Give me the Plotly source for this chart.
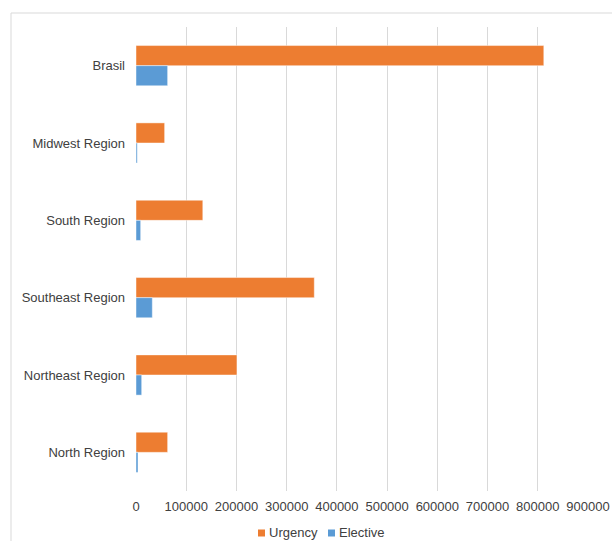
import plotly.graph_objects as go

categories = ["Brasil", "Midwest Region", "South Region", "Southeast Region", "Northeast Region", "North Region"]
urgency = [812000, 57000, 133000, 355000, 201000, 63000]
elective = [63000, 2500, 9300, 32500, 11300, 4000]
x_ticks = [0, 100000, 200000, 300000, 400000, 500000, 600000, 700000, 800000, 900000]
series_names = ["Urgency", "Elective"]
series_colors = ["#ED7D31", "#5B9BD5"]

W, H = 612, 541
ml, mr, mt, mb = 136, 24, 27, 50
pw, ph = W - ml - mr, H - mt - mb

def px_x(p):
    return (p - ml) / pw

def px_y(p):
    return (H - mb - p) / ph

fig = go.Figure()
for name, vals, col in zip(series_names, [urgency, elective], series_colors):
    fig.add_trace(go.Bar(
        y=categories, x=vals, name=name, orientation="h", showlegend=False,
        marker=dict(color=col, line=dict(color="rgba(255,255,255,0.45)", width=1)),
    ))

# legend drawn as small squares + labels (Excel-style compact legend)
legend_sq_x = [258, 328]
legend_txt_x = [267, 337]
shapes = [dict(
    type="rect", xref="paper", yref="paper",
    x0=px_x(11), x1=px_x(620), y0=px_y(560), y1=px_y(13),
    line=dict(color="#d9d9d9", width=1), fillcolor="rgba(0,0,0,0)", layer="below",
)]
annotations = []
for name, col, sx, tx in zip(series_names, series_colors, legend_sq_x, legend_txt_x):
    shapes.append(dict(
        type="rect", xref="paper", yref="paper",
        x0=px_x(sx), x1=px_x(sx + 7), y0=px_y(536.5), y1=px_y(529.5),
        line=dict(width=0), fillcolor=col,
    ))
    annotations.append(dict(
        text=name, xref="paper", yref="paper", x=px_x(tx), y=px_y(532.5),
        xanchor="left", yanchor="middle", showarrow=False,
        font=dict(size=13, color="#404040"),
    ))

fig.update_layout(
    width=W, height=H,
    margin=dict(l=ml, r=mr, t=mt, b=mb, autoexpand=False),
    paper_bgcolor="white", plot_bgcolor="white",
    barmode="group", bargap=0.48, bargroupgap=0,
    font=dict(family="Liberation Sans, Arial, sans-serif", size=13, color="#404040"),
    xaxis=dict(
        range=[0, 900000], tickvals=x_ticks, ticktext=[str(v) for v in x_ticks],
        showgrid=True, gridcolor="#d9d9d9", gridwidth=1, zeroline=False,
        showline=False, ticks="", ticklabelstandoff=6,
        tickfont=dict(size=13, color="#404040"), automargin=False,
    ),
    yaxis=dict(
        autorange="reversed", showgrid=False, zeroline=False, showline=False,
        ticks="", ticklabelstandoff=10, tickfont=dict(size=13, color="#404040"),
        automargin=False,
    ),
    showlegend=False,
    shapes=shapes,
    annotations=annotations,
)

fig.write_html("out.html")
